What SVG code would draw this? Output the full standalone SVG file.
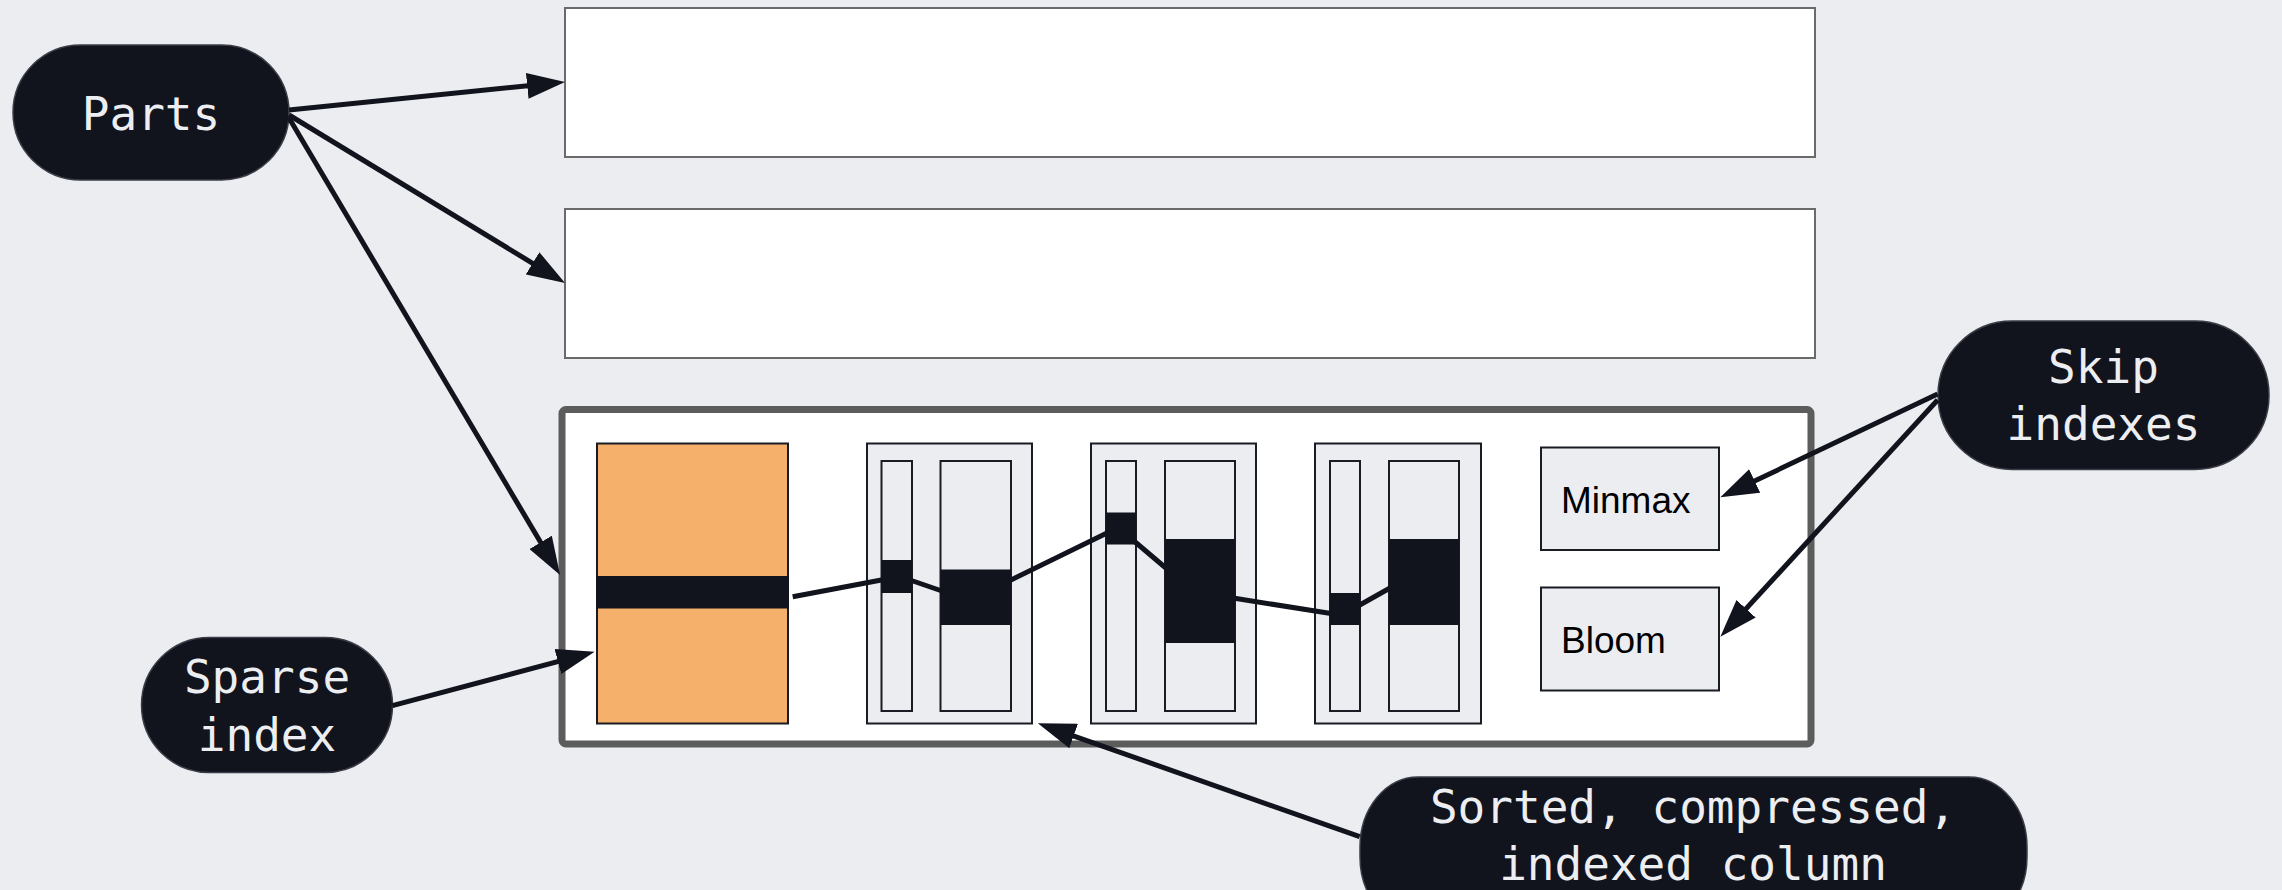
<svg xmlns="http://www.w3.org/2000/svg" width="2282" height="890" viewBox="0 0 2282 890">
  <style>
    .pill { fill: #11131d; stroke: #3a3d47; stroke-width: 1.5; }
    .pill-text { font-family: "DejaVu Sans Mono", "Liberation Mono", monospace; font-size: 46px; fill: #eceef2; text-anchor: middle; }
    .part { fill: #ffffff; stroke: #6a6a6a; stroke-width: 2; }
    .col-outer { fill: #ecedf1; stroke: #1a1c24; stroke-width: 2; }
    .col-inner { fill: #ecedf1; stroke: #1a1c24; stroke-width: 2; }
    .mark { fill: #11131d; }
    .idx { fill: #ecedf1; stroke: #1a1c24; stroke-width: 2; }
    .idx-text { font-family: "Liberation Sans", Arial, sans-serif; font-size: 37px; fill: #000000; }
    .conn { fill: none; stroke: #11131d; stroke-width: 5; }
  </style>
  <defs>
    <marker id="arrow" markerUnits="userSpaceOnUse" viewBox="0 0 38 26" markerWidth="38" markerHeight="26" refX="26" refY="13" orient="auto">
      <path d="M0,0 L38,13 L0,26 z" fill="#11131d"/>
    </marker>
  </defs>

  <rect x="0" y="0" width="2282" height="890" fill="#ecedf1"/>

  <!-- parts -->
  <g id="part-1">
    <rect class="part" x="565" y="8" width="1250" height="149"/>
  </g>
  <g id="part-2">
    <rect class="part" x="565" y="209" width="1250" height="149"/>
  </g>

  <!-- expanded part -->
  <g id="part-3">
    <rect x="562" y="409.5" width="1249" height="334.5" rx="4" fill="#ffffff" stroke="#5c5c5c" stroke-width="7"/>
  </g>

  <g id="primary-key">
    <rect x="597" y="443.5" width="191" height="280" fill="#f5b16b" stroke="#1a1c24" stroke-width="2"/>
    <rect class="mark" x="596" y="576" width="193" height="32.5"/>
  </g>

  <g id="column-1">
    <rect class="col-outer" x="867" y="443.5" width="165" height="280"/>
    <rect class="col-inner" x="881.5" y="461" width="30.5" height="250"/>
    <rect class="col-inner" x="940.5" y="461" width="70.5" height="250"/>
    <rect class="mark" x="881.5" y="560" width="30.5" height="33"/>
    <rect class="mark" x="940.5" y="569.5" width="70.5" height="55.5"/>
  </g>

  <g id="column-2">
    <rect class="col-outer" x="1091" y="443.5" width="165" height="280"/>
    <rect class="col-inner" x="1106" y="461" width="30" height="250"/>
    <rect class="col-inner" x="1165" y="461" width="70" height="250"/>
    <rect class="mark" x="1106" y="512.5" width="30" height="32"/>
    <rect class="mark" x="1165" y="539" width="70" height="104"/>
  </g>

  <g id="column-3">
    <rect class="col-outer" x="1315" y="443.5" width="166" height="280"/>
    <rect class="col-inner" x="1330" y="461" width="30" height="250"/>
    <rect class="col-inner" x="1389" y="461" width="70" height="250"/>
    <rect class="mark" x="1330" y="593" width="30" height="32"/>
    <rect class="mark" x="1389" y="539" width="70" height="86"/>
  </g>

  <g id="minmax">
    <rect class="idx" x="1541" y="447.5" width="178" height="102.5"/>
    <text class="idx-text" x="1561" y="513">Minmax</text>
  </g>
  <g id="bloom">
    <rect class="idx" x="1541" y="587.5" width="178" height="103"/>
    <text class="idx-text" x="1561" y="653">Bloom</text>
  </g>

  <!-- labels -->
  <g id="parts-label">
    <rect class="pill" x="13" y="45" width="276" height="135" rx="67.5"/>
    <text class="pill-text" x="151" y="130">Parts</text>
  </g>
  <g id="sparse-label">
    <rect class="pill" x="141.5" y="637.5" width="251" height="135" rx="67.5"/>
    <text class="pill-text" x="267" y="693">Sparse</text>
    <text class="pill-text" x="267" y="751">index</text>
  </g>
  <g id="skip-label">
    <rect class="pill" x="1938" y="321" width="331" height="148.5" rx="74"/>
    <text class="pill-text" x="2103.5" y="383">Skip</text>
    <text class="pill-text" x="2103.5" y="440">indexes</text>
  </g>
  <g id="column-label">
    <rect class="pill" x="1360" y="777" width="667" height="150" rx="58" ry="70"/>
    <text class="pill-text" x="1693" y="823">Sorted, compressed,</text>
    <text class="pill-text" x="1693" y="880">indexed column</text>
  </g>

  <!-- connectors -->
  <g id="connectors">
    <line class="conn" x1="289" y1="110" x2="553.1" y2="83.2" marker-end="url(#arrow)"/>
    <line class="conn" x1="289" y1="115" x2="554.8" y2="276.8" marker-end="url(#arrow)"/>
    <line class="conn" x1="289" y1="118" x2="553.9" y2="564.7" marker-end="url(#arrow)"/>
    <line class="conn" x1="392.4" y1="705.7" x2="583" y2="654.8" marker-end="url(#arrow)"/>
    <line class="conn" x1="1359.7" y1="836.7" x2="1049.1" y2="727.3" marker-end="url(#arrow)"/>
    <line class="conn" x1="1937.6" y1="394" x2="1731.2" y2="492.1" marker-end="url(#arrow)"/>
    <line class="conn" x1="1937.6" y1="400" x2="1728.5" y2="627.9" marker-end="url(#arrow)"/>
    <polyline class="conn" stroke-linejoin="round" points="792.7,596.7 884,579.5 910,580 942,591 1009,581 1108,532.5 1134,541 1167,569 1233,598 1331,613.5 1358,606 1390,588"/>
  </g>
</svg>
